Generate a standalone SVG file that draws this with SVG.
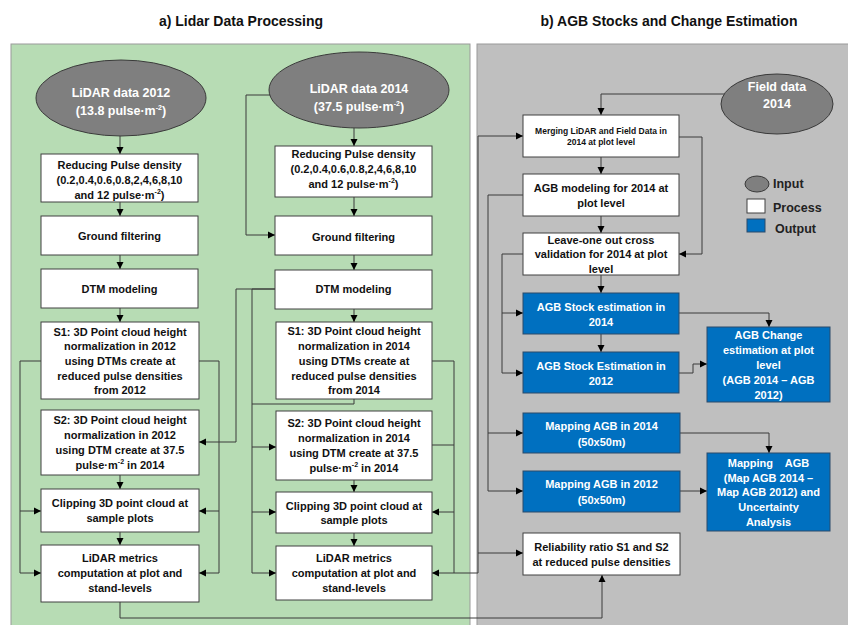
<svg xmlns="http://www.w3.org/2000/svg" width="848" height="625" viewBox="0 0 848 625">
<defs>
<marker id="ah" markerWidth="8" markerHeight="8" refX="7" refY="4" orient="auto" markerUnits="userSpaceOnUse"><path d="M0,0.5 L7,4 L0,7.5 z" fill="#000"/></marker>
<style>
.t{font-family:"Liberation Sans",Arial,sans-serif;font-weight:bold;font-size:11px;fill:#111;text-anchor:middle}
.ti{font-family:"Liberation Sans",Arial,sans-serif;font-weight:bold;font-size:14px;fill:#111;text-anchor:middle}
.e{font-size:12.5px;fill:#fff}
.w{fill:#fff}
.sm{font-size:8.5px}
.lg{font-family:"Liberation Sans",Arial,sans-serif;font-weight:bold;font-size:12.5px;fill:#222}
.box{fill:#fff;stroke:#404040;stroke-width:1}
.out{fill:#0070c0;stroke:#2a4a6a;stroke-width:1}
.inp{fill:#7f7f7f;stroke:#3a3a3a;stroke-width:1}
.c{fill:none;stroke:#3a3a3a;stroke-width:1}
.a{marker-end:url(#ah)}
.sup{font-size:7px}
</style>
</defs>
<rect width="848" height="625" fill="#fff"/>
<g id="panels">
<rect x="11" y="44" width="459" height="585" fill="#b7dcb4" stroke="#9a9a9a" stroke-width="1"/>
<rect x="477" y="44" width="375" height="585" fill="#bfbfbf" stroke="#9a9a9a" stroke-width="1"/>
<text class="ti" x="241" y="26">a) Lidar Data Processing</text>
<text class="ti" x="669" y="26">b) AGB Stocks and Change Estimation</text>
</g>
<g id="connectors">
<path class="c a" d="M120,136 V154"/>
<path class="c a" d="M120,202 V216"/>
<path class="c a" d="M120,255 V269"/>
<path class="c a" d="M120,308 V322"/>
<path class="c a" d="M120,475 V489"/>
<path class="c a" d="M120,532 V545"/>
<path class="c a" d="M41,361 H20 V573 H41"/>
<path class="c a" d="M20,511 H41"/>
<path class="c a" d="M199,361 H219 V573 H199"/>
<path class="c a" d="M219,511 H199"/>
<path class="c a" d="M275,289 H236 V442 H199"/>
<path class="c a" d="M270,95 H246 V235 H275"/>
<path class="c a" d="M354,128 V146"/>
<path class="c a" d="M354,197 V216"/>
<path class="c a" d="M354,255 V270"/>
<path class="c a" d="M354,309 V322"/>
<path class="c a" d="M275,289 H252 V573 H276"/>
<path class="c" d="M354,399 V404 H252"/>
<path class="c a" d="M252,447 H276"/>
<path class="c a" d="M252,512 H276"/>
<path class="c a" d="M354,480 V492"/>
<path class="c a" d="M354,533 V546"/>
<path class="c" d="M432,361 H454 V573"/>
<path class="c" d="M432,445 H454"/>
<path class="c a" d="M454,512 H432"/>
<path class="c a" d="M478,573 H432"/>
<path class="c a" d="M478,573 V136 H523"/>
<path class="c a" d="M478,553 H523"/>
<path class="c a" d="M120,602 V618 H602 V575"/>
<path class="c a" d="M724,94 H601 V115"/>
<path class="c a" d="M601,157 V174"/>
<path class="c a" d="M601,216 V233"/>
<path class="c a" d="M601,275 V293"/>
<path class="c a" d="M679,137 H702 V254 H679"/>
<path class="c a" d="M523,195 H488 V491 H523"/>
<path class="c a" d="M488,433 H523"/>
<path class="c a" d="M523,254 H502 V373 H523"/>
<path class="c a" d="M502,313 H523"/>
<path class="c a" d="M601,334 V352"/>
<path class="c a" d="M679,313 H769 V327"/>
<path class="c a" d="M679,373 H693 V364 H707"/>
<path class="c a" d="M680,433 H769 V453"/>
<path class="c a" d="M680,491 H707"/>
</g>
<g id="lidar2012">
<ellipse class="inp" cx="121" cy="98" rx="85" ry="38"/>
<text class="t e" x="121" y="97">LiDAR data 2012</text>
<text class="t e" x="121" y="115">(13.8 pulse·m<tspan class="sup" dy="-5">-2</tspan><tspan dy="5">)</tspan></text>
</g>
<g id="reduce2012">
<rect class="box" x="41" y="154" width="157" height="48"/>
<text class="t" x="119.5" y="169">Reducing Pulse density</text>
<text class="t" x="119.5" y="184">(0.2,0.4,0.6,0.8,2,4,6,8,10</text>
<text class="t" x="119.5" y="199">and 12 pulse·m<tspan class="sup" dy="-5">-2</tspan><tspan dy="5">)</tspan></text>
</g>
<g id="ground2012">
<rect class="box" x="41" y="216" width="157" height="39"/>
<text class="t" x="119.5" y="240">Ground filtering</text>
</g>
<g id="dtm2012">
<rect class="box" x="41" y="269" width="157" height="39"/>
<text class="t" x="119.5" y="293">DTM modeling</text>
</g>
<g id="s1_2012">
<rect class="box" x="41" y="322" width="158" height="77"/>
<text class="t" x="120" y="336">S1: 3D Point cloud height</text>
<text class="t" x="120" y="350">normalization in 2012</text>
<text class="t" x="120" y="365">using DTMs create at</text>
<text class="t" x="120" y="380">reduced pulse densities</text>
<text class="t" x="120" y="394">from 2012</text>
</g>
<g id="s2_2012">
<rect class="box" x="41" y="410" width="158" height="65"/>
<text class="t" x="120" y="424">S2: 3D Point cloud height</text>
<text class="t" x="120" y="439">normalization in 2012</text>
<text class="t" x="120" y="454">using DTM create at 37.5</text>
<text class="t" x="120" y="469">pulse·m<tspan class="sup" dy="-5">-2</tspan><tspan dy="5"> in 2014</tspan></text>
</g>
<g id="clip2012">
<rect class="box" x="41" y="489" width="158" height="43"/>
<text class="t" x="120" y="507">Clipping 3D point cloud at</text>
<text class="t" x="120" y="522">sample plots</text>
</g>
<g id="metrics2012">
<rect class="box" x="41" y="545" width="158" height="57"/>
<text class="t" x="120" y="562">LiDAR metrics</text>
<text class="t" x="120" y="577">computation at plot and</text>
<text class="t" x="120" y="592">stand-levels</text>
</g>
<g id="lidar2014">
<ellipse class="inp" cx="359" cy="90" rx="90" ry="38"/>
<text class="t e" x="359" y="93">LiDAR data 2014</text>
<text class="t e" x="359" y="111">(37.5 pulse·m<tspan class="sup" dy="-5">-2</tspan><tspan dy="5">)</tspan></text>
</g>
<g id="reduce2014">
<rect class="box" x="275" y="146" width="157" height="51"/>
<text class="t" x="353.5" y="158">Reducing Pulse density</text>
<text class="t" x="353.5" y="173">(0.2,0.4,0.6,0.8,2,4,6,8,10</text>
<text class="t" x="353.5" y="188">and 12 pulse·m<tspan class="sup" dy="-5">-2</tspan><tspan dy="5">)</tspan></text>
</g>
<g id="ground2014">
<rect class="box" x="275" y="216" width="157" height="39"/>
<text class="t" x="353.5" y="241">Ground filtering</text>
</g>
<g id="dtm2014">
<rect class="box" x="275" y="270" width="157" height="39"/>
<text class="t" x="353.5" y="293">DTM modeling</text>
</g>
<g id="s1_2014">
<rect class="box" x="276" y="322" width="156" height="77"/>
<text class="t" x="354" y="335">S1: 3D Point cloud height</text>
<text class="t" x="354" y="350">normalization in 2014</text>
<text class="t" x="354" y="365">using DTMs create at</text>
<text class="t" x="354" y="380">reduced pulse densities</text>
<text class="t" x="354" y="394">from 2014</text>
</g>
<g id="s2_2014">
<rect class="box" x="276" y="411" width="156" height="69"/>
<text class="t" x="354" y="427">S2: 3D Point cloud height</text>
<text class="t" x="354" y="442">normalization in 2014</text>
<text class="t" x="354" y="457">using DTM create at 37.5</text>
<text class="t" x="354" y="472">pulse·m<tspan class="sup" dy="-5">-2</tspan><tspan dy="5"> in 2014</tspan></text>
</g>
<g id="clip2014">
<rect class="box" x="276" y="492" width="156" height="41"/>
<text class="t" x="354" y="510">Clipping 3D point cloud at</text>
<text class="t" x="354" y="524">sample plots</text>
</g>
<g id="metrics2014">
<rect class="box" x="276" y="546" width="156" height="54"/>
<text class="t" x="354" y="562">LiDAR metrics</text>
<text class="t" x="354" y="577">computation at plot and</text>
<text class="t" x="354" y="592">stand-levels</text>
</g>
<g id="field2014">
<ellipse class="inp" cx="777" cy="104" rx="56" ry="30"/>
<text class="t e" x="777" y="91">Field data</text>
<text class="t e" x="777" y="108">2014</text>
</g>
<g id="legend">
<ellipse class="inp" cx="757" cy="184" rx="12" ry="8"/>
<text class="lg" x="773" y="188">Input</text>
<rect class="box" x="747" y="199" width="18" height="14"/>
<text class="lg" x="773" y="212">Process</text>
<rect class="out" x="747" y="219" width="18" height="13"/>
<text class="lg" x="775" y="233">Output</text>
</g>
<g id="merging">
<rect class="box" x="523" y="115" width="156" height="42"/>
<text class="t sm" x="601" y="134">Merging LiDAR and Field Data in</text>
<text class="t sm" x="601" y="145">2014 at plot level</text>
</g>
<g id="agbmodel">
<rect class="box" x="523" y="174" width="156" height="42"/>
<text class="t" x="601" y="192">AGB modeling for 2014 at</text>
<text class="t" x="601" y="207">plot level</text>
</g>
<g id="loocv">
<rect class="box" x="523" y="233" width="156" height="42"/>
<text class="t" x="601" y="244">Leave-one out cross</text>
<text class="t" x="601" y="258">validation for 2014 at plot</text>
<text class="t" x="601" y="273">level</text>
</g>
<g id="stock2014">
<rect class="out" x="523" y="293" width="156" height="41"/>
<text class="t w" x="601" y="311">AGB Stock estimation in</text>
<text class="t w" x="601" y="326">2014</text>
</g>
<g id="stock2012">
<rect class="out" x="523" y="352" width="156" height="41"/>
<text class="t w" x="601" y="370">AGB Stock Estimation in</text>
<text class="t w" x="601" y="385">2012</text>
</g>
<g id="change">
<rect class="out" x="707" y="327" width="123" height="75"/>
<text class="t w" x="768.5" y="339">AGB Change</text>
<text class="t w" x="768.5" y="354">estimation at plot</text>
<text class="t w" x="768.5" y="369">level</text>
<text class="t w" x="768.5" y="384">(AGB 2014 – AGB</text>
<text class="t w" x="768.5" y="399">2012)</text>
</g>
<g id="map2014">
<rect class="out" x="523" y="413" width="157" height="40"/>
<text class="t w" x="601.5" y="430">Mapping AGB in 2014</text>
<text class="t w" x="601.5" y="446">(50x50m)</text>
</g>
<g id="map2012">
<rect class="out" x="523" y="471" width="157" height="41"/>
<text class="t w" x="601.5" y="488">Mapping AGB in 2012</text>
<text class="t w" x="601.5" y="504">(50x50m)</text>
</g>
<g id="mapchange">
<rect class="out" x="707" y="453" width="123" height="78"/>
<text class="t w" x="768.5" y="467" style="white-space:pre">Mapping    AGB</text>
<text class="t w" x="768.5" y="482">(Map AGB 2014 –</text>
<text class="t w" x="768.5" y="496">Map AGB 2012) and</text>
<text class="t w" x="768.5" y="511">Uncertainty</text>
<text class="t w" x="768.5" y="526">Analysis</text>
</g>
<g id="reliability">
<rect class="box" x="523" y="533" width="157" height="42"/>
<text class="t" x="601.5" y="551">Reliability ratio S1 and S2</text>
<text class="t" x="601.5" y="566">at reduced pulse densities</text>
</g>
</svg>
